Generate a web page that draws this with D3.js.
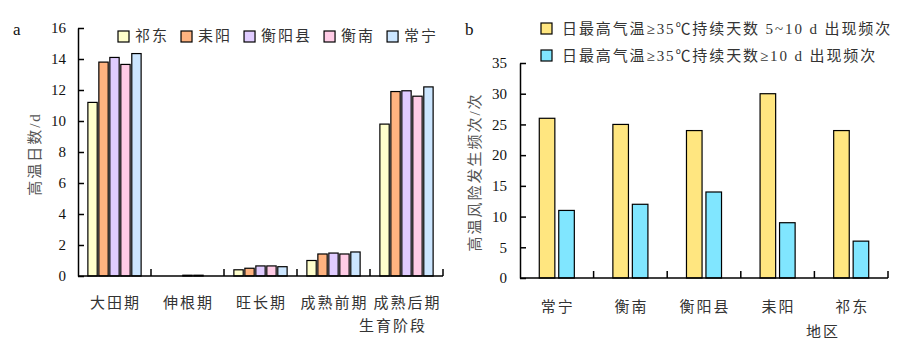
<!DOCTYPE html>
<html><head><meta charset="utf-8">
<script src="https://cdn.jsdelivr.net/npm/d3@7"></script>
<style>
body{margin:0;background:#fff;}
svg{display:block;}
.num{font-family:"Liberation Serif","Times New Roman","DejaVu Serif",serif;font-size:15px;fill:#111;}
.cjk{font-family:"Liberation Serif","Noto Sans CJK SC",serif;font-size:15px;fill:#333;letter-spacing:2px;}
</style></head>
<body>
<svg id="c" width="920" height="350"></svg>
<script>
// ---------- Panel a data ----------
const stages = ["大田期","伸根期","旺长期","成熟前期","成熟后期"];
const sitesA = ["祁东","耒阳","衡阳县","衡南","常宁"];
const colorsA = ["#FFFFCC","#FFB380","#E0CCFF","#FFCCE6","#CCE6FF"];
const valQidong   = [11.2, 0,    0.4,  1.0,  9.8];
const valLeiyang  = [13.8, 0,    0.5,  1.42, 11.9];
const valHengyangx= [14.1, 0.05, 0.65, 1.48, 11.95];
const valHengnan  = [13.65,0.05, 0.65, 1.42, 11.6];
const valChangning= [14.35,0,    0.6,  1.55, 12.2];
const yTicksA = [0,2,4,6,8,10,12,14,16];

// ---------- Panel b data ----------
const regions = ["常宁","衡南","衡阳县","耒阳","祁东"];
const freq5to10 = [26, 25, 24, 30, 24];
const freqOver10 = [11, 12, 14, 9, 6];
const seriesB = ["日最高气温≥35℃持续天数 5~10 d 出现频次","日最高气温≥35℃持续天数≥10 d 出现频次"];
const colorsB = ["#FFE680","#80E6FF"];
const yTicksB = [0,5,10,15,20,25,30,35];

const svg = d3.select("#c");

// ================= Panel a =================
(function(){
  const valsA = [valQidong,valLeiyang,valHengyangx,valHengnan,valChangning];
  const x = d3.scaleBand().domain(stages).range([78,443]).padding(0);
  const xi = d3.scaleBand().domain(sitesA).range([0,x.bandwidth()]).paddingInner(0.15).paddingOuter(0.9);
  const y = d3.scaleLinear().domain([0,16]).range([276,28]);
  const g = svg.append("g");

  stages.forEach((s,si)=>{
    sitesA.forEach((site,k)=>{
      const v = valsA[k][si];
      if (v<=0) return;
      g.append("rect")
        .attr("x", x(s)+xi(site))
        .attr("y", y(v))
        .attr("width", xi.bandwidth())
        .attr("height", y(0)-y(v))
        .attr("fill", colorsA[k])
        .attr("stroke","#000").attr("stroke-width",1.2);
    });
  });

  const ax = g.append("g").attr("transform","translate(78,0)")
    .call(d3.axisLeft(y).tickValues(yTicksA).tickSizeInner(-6).tickSizeOuter(0).tickPadding(12));
  ax.attr("font-family",null).attr("font-size",null);
  ax.select(".domain").attr("stroke","#000").attr("stroke-width",1.5);
  ax.selectAll(".tick line").attr("stroke","#000").attr("stroke-width",1.5);
  ax.selectAll(".tick text").attr("class","num");

  const [x0,x1] = x.range();
  g.append("line").attr("x1",x0).attr("x2",x1).attr("y1",y(0)).attr("y2",y(0)).attr("stroke","#000").attr("stroke-width",1.5);
  stages.forEach((s,i)=>{
    const bx = x(s)+x.bandwidth();
    g.append("line").attr("x1",bx).attr("x2",bx).attr("y1",y(0)).attr("y2",y(0)-7).attr("stroke","#000").attr("stroke-width",1.5);
    g.append("text").attr("class","cjk").attr("x",x(s)+x.bandwidth()/2+1).attr("y",308)
      .attr("text-anchor","middle").text(s);
  });
  g.append("text").attr("class","cjk").attr("x",393).attr("y",331).attr("text-anchor","middle").text("生育阶段");

  g.append("text").attr("class","cjk").attr("transform","translate(40,154) rotate(-90)")
    .attr("text-anchor","middle").style("fill","#555").text("高温日数/d");

  g.append("text").attr("x",13).attr("y",35).attr("class","num").style("font-size","17px").text("a");

  let lx = 118;
  sitesA.forEach((site,k)=>{
    g.append("rect").attr("x",lx).attr("y",31).attr("width",11).attr("height",11)
      .attr("fill",colorsA[k]).attr("stroke","#000").attr("stroke-width",1.2);
    const t = g.append("text").attr("class","cjk").attr("x",lx+17).attr("y",41).text(site);
    lx += 17 + t.node().getComputedTextLength() + 12;
  });
})();

// ================= Panel b =================
(function(){
  const valsB = [freq5to10, freqOver10];
  const x = d3.scaleBand().domain(regions).range([520,888]).padding(0);
  const xi = d3.scaleBand().domain([0,1]).range([0,x.bandwidth()]).paddingInner(0.2).paddingOuter(0.99);
  const y = d3.scaleLinear().domain([0,35]).range([278,63]);
  const g = svg.append("g");

  regions.forEach((r,ri)=>{
    valsB.forEach((arr,k)=>{
      const v = arr[ri];
      g.append("rect")
        .attr("x", x(r)+xi(k))
        .attr("y", y(v))
        .attr("width", xi.bandwidth())
        .attr("height", y(0)-y(v))
        .attr("fill", colorsB[k])
        .attr("stroke","#000").attr("stroke-width",1.2);
    });
  });

  const ax = g.append("g").attr("transform","translate(520,0)")
    .call(d3.axisLeft(y).tickValues(yTicksB).tickSizeInner(-6).tickSizeOuter(0).tickPadding(13));
  ax.attr("font-family",null).attr("font-size",null);
  ax.select(".domain").attr("stroke","#000").attr("stroke-width",1.5);
  ax.selectAll(".tick line").attr("stroke","#000").attr("stroke-width",1.5);
  ax.selectAll(".tick text").attr("class","num");

  const [x0,x1] = x.range();
  g.append("line").attr("x1",x0).attr("x2",x1).attr("y1",y(0)).attr("y2",y(0)).attr("stroke","#000").attr("stroke-width",1.5);
  regions.forEach((r)=>{
    const bx = x(r)+x.bandwidth();
    g.append("line").attr("x1",bx).attr("x2",bx).attr("y1",y(0)).attr("y2",y(0)-7).attr("stroke","#000").attr("stroke-width",1.5);
    g.append("text").attr("class","cjk").attr("x",x(r)+x.bandwidth()/2+1).attr("y",312)
      .attr("text-anchor","middle").text(r);
  });
  g.append("text").attr("class","cjk").attr("x",823).attr("y",337).attr("text-anchor","middle").text("地区");

  g.append("text").attr("class","cjk").attr("transform","translate(480,172) rotate(-90)")
    .attr("text-anchor","middle").style("fill","#555").text("高温风险发生频次/次");

  g.append("text").attr("x",465).attr("y",35).attr("class","num").style("font-size","17px").text("b");

  seriesB.forEach((s,k)=>{
    const yy = 23 + k*27;
    g.append("rect").attr("x",541).attr("y",yy).attr("width",11).attr("height",11)
      .attr("fill",colorsB[k]).attr("stroke","#000").attr("stroke-width",1.2);
    g.append("text").attr("class","cjk").attr("x",562).attr("y",yy+11).style("letter-spacing","1.9px").text(s);
  });
})();
</script>
</body></html>
